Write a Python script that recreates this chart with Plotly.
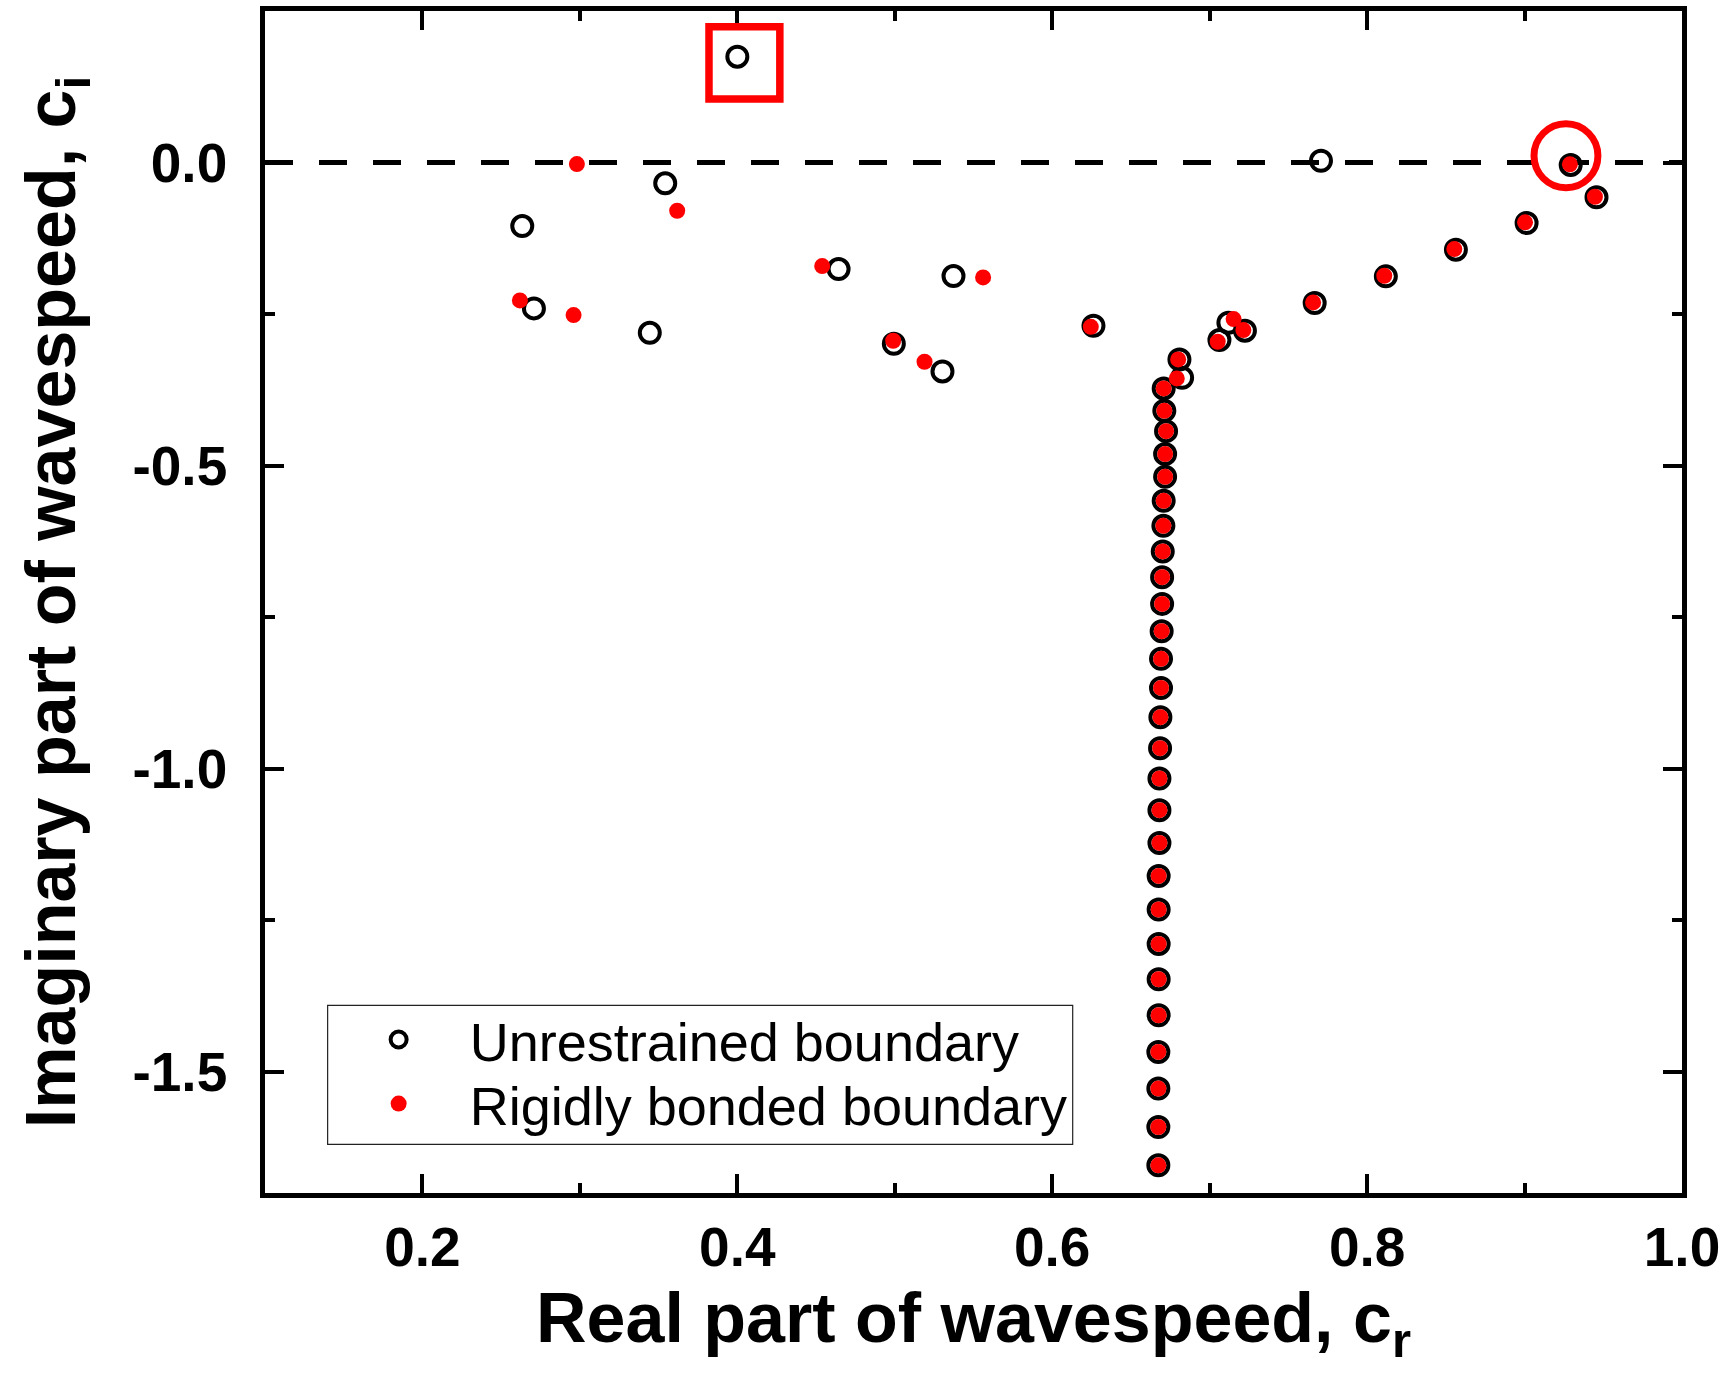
import plotly.graph_objects as go

# ---- data ----
unres_cr = [0.2634, 0.2708, 0.3444, 0.3542, 0.4000, 0.4643, 0.4994, 0.5303, 0.5373,
            0.6262, 0.6808, 0.6825, 0.7062, 0.7119, 0.7224, 0.7667, 0.7707, 0.8119,
            0.8564, 0.9013, 0.9293, 0.9457,
            0.6708, 0.6712, 0.6723, 0.6717, 0.6717, 0.6708, 0.6706, 0.6702, 0.6698,
            0.6698, 0.6695, 0.6691, 0.6691, 0.6687, 0.6685, 0.6681, 0.6681, 0.6681,
            0.6676, 0.6676, 0.6676, 0.6676, 0.6676, 0.6674, 0.6674, 0.6674, 0.6674]
unres_ci = [-0.1048, -0.2406, -0.2809, -0.0343, 0.1746, -0.1757, -0.2990, -0.3446, -0.1873,
            -0.2693, -0.3248, -0.3551, -0.2929, -0.2643, -0.2774, -0.2317, 0.0030, -0.1878,
            -0.1437, -0.0997, -0.0040, -0.0574,
            -0.3726, -0.4096, -0.4431, -0.4810, -0.5185, -0.5581, -0.5993, -0.6416, -0.6840,
            -0.7281, -0.7731, -0.8188, -0.8667, -0.9150, -0.9662, -1.0162, -1.0685, -1.1224,
            -1.1769, -1.2323, -1.2891, -1.3474, -1.4068, -1.4673, -1.5277, -1.5911, -1.6543]

rigid_cr = [0.2619, 0.2960, 0.2981, 0.3618, 0.4539, 0.4990, 0.5189, 0.5561, 0.6245,
            0.6791, 0.6800, 0.7051, 0.7152, 0.7214, 0.7657, 0.8109, 0.8554, 0.9003,
            0.9288, 0.9447,
            0.6708, 0.6712, 0.6723, 0.6717, 0.6717, 0.6708, 0.6706, 0.6702, 0.6698,
            0.6698, 0.6695, 0.6691, 0.6691, 0.6687, 0.6685, 0.6681, 0.6681, 0.6681,
            0.6676, 0.6676, 0.6676, 0.6676, 0.6676, 0.6674, 0.6674, 0.6674, 0.6674]
rigid_ci = [-0.2274, -0.2517, -0.0025, -0.0795, -0.1708, -0.2940, -0.3287, -0.1895, -0.2710,
            -0.3561, -0.3248, -0.2957, -0.2583, -0.2764, -0.2307, -0.1868, -0.1427, -0.0987,
            -0.0030, -0.0564,
            -0.3726, -0.4096, -0.4431, -0.4810, -0.5185, -0.5581, -0.5993, -0.6416, -0.6840,
            -0.7281, -0.7731, -0.8188, -0.8667, -0.9150, -0.9662, -1.0162, -1.0685, -1.1224,
            -1.1769, -1.2323, -1.2891, -1.3474, -1.4068, -1.4673, -1.5277, -1.5911, -1.6543]

x_tickvals = [0.2, 0.4, 0.6, 0.8, 1.0]
x_ticktext = ["0.2", "0.4", "0.6", "0.8", "1.0"]
x_minor = [0.3, 0.5, 0.7, 0.9]
y_tickvals = [0.0, -0.5, -1.0, -1.5]
y_ticktext = ["0.0", "-0.5", "-1.0", "-1.5"]
y_minor = [-0.25, -0.75, -1.25]

series_names = ["Unrestrained boundary", "Rigidly bonded boundary"]

# highlighted regions
box_x = [0.382, 0.427]
box_y = [0.105, 0.224]
ring_center = [0.9263, 0.0112]
ring_r = [0.0203, 0.0528]

FONT = "Liberation Sans, Arial, sans-serif"

fig = go.Figure()
fig.add_trace(go.Scatter(
    x=unres_cr, y=unres_ci, mode="markers", name=series_names[0], legend="legend",
    marker=dict(symbol="circle-open", size=20, color="black", line=dict(width=4, color="black")),
))
fig.add_trace(go.Scatter(
    x=rigid_cr, y=rigid_ci, mode="markers", name=series_names[1], legend="legend2",
    marker=dict(symbol="circle", size=16, color="#FF0000", line=dict(width=0)),
))

fig.add_shape(type="line", xref="paper", yref="y", x0=0, x1=1, y0=0, y1=0,
              line=dict(color="black", width=5, dash="28px,26px"), layer="below")
fig.add_shape(type="rect", xref="x", yref="y", x0=box_x[0], x1=box_x[1], y0=box_y[0], y1=box_y[1],
              line=dict(color="#FF0000", width=7.5), layer="above")
fig.add_shape(type="circle", xref="x", yref="y",
              x0=ring_center[0] - ring_r[0], x1=ring_center[0] + ring_r[0],
              y0=ring_center[1] - ring_r[1], y1=ring_center[1] + ring_r[1],
              line=dict(color="#FF0000", width=7), layer="above")
# legend frame
fig.add_shape(type="rect", xref="paper", yref="paper", x0=0.0442, x1=0.570, y0=0.0412, y1=0.1588,
              line=dict(color="#222", width=1.2), fillcolor="white", layer="above")

axis_common = dict(
    showline=True, linecolor="black", linewidth=4.5, mirror="allticks",
    ticks="inside", ticklen=19, tickwidth=3.5, tickcolor="black",
    showgrid=False, zeroline=False, automargin=False,
    tickfont=dict(family=FONT, size=55, color="black", weight="bold"),
)

fig.update_xaxes(
    range=[0.1, 1.0], tickmode="array", tickvals=x_tickvals, ticktext=x_ticktext,
    minor=dict(tickmode="array", tickvals=x_minor, ticks="inside", ticklen=10, tickwidth=3.5, tickcolor="black"),
    title=dict(text="Real part of wavespeed, c<sub>r</sub>",
               font=dict(family=FONT, size=70, color="black", weight="bold"), standoff=18),
    ticklabelstandoff=2,
    **axis_common,
)
fig.update_yaxes(
    range=[-1.7, 0.25], tickmode="array", tickvals=y_tickvals, ticktext=y_ticktext,
    minor=dict(tickmode="array", tickvals=y_minor, ticks="inside", ticklen=10, tickwidth=3.5, tickcolor="black"),
    title=dict(text="Imaginary part of wavespeed, c<sub>i</sub>",
               font=dict(family=FONT, size=70, color="black", weight="bold"), standoff=35),
    ticklabelstandoff=22,
    **axis_common,
)

legend_style = dict(
    xanchor="left", yanchor="middle",
    bgcolor="rgba(0,0,0,0)", borderwidth=0,
    font=dict(family=FONT, size=54, color="black"),
    itemwidth=132,
)
fig.update_layout(
    width=1731, height=1388,
    margin=dict(l=265, r=49, t=11, b=195),
    plot_bgcolor="white", paper_bgcolor="white",
    showlegend=True,
    legend=dict(x=0.0442, y=0.1295, **legend_style),
    legend2=dict(x=0.0442, y=0.0753, **legend_style),
)

fig.write_html("out.html")
